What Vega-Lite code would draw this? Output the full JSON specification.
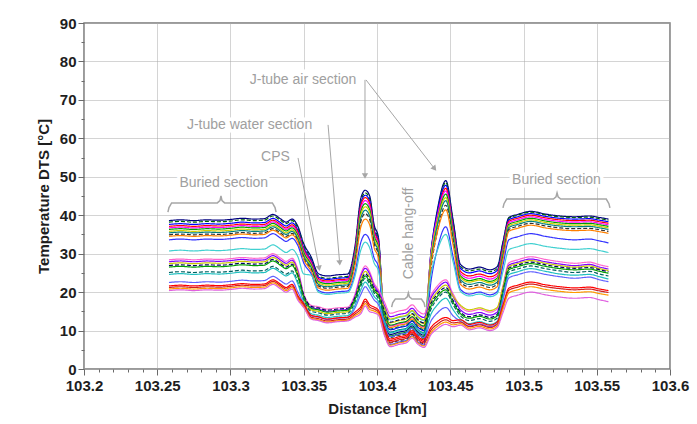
{
"$schema": "https://vega.github.io/schema/vega-lite/v6.json",
"width": 586, "height": 346,
"autosize": {"type": "none"},
"padding": {"left": 84, "top": 23, "right": 27, "bottom": 55},
"background": "white",
"datasets": {
"traces": [
{"k":"a1","d":[103.258,103.266,103.275,103.284,103.292,103.3,103.308,103.316,103.323,103.329,103.334,103.338,103.342,103.346,103.35,103.355,103.36,103.366,103.373,103.38,103.385,103.389,103.392,103.395,103.398,103.401,103.405,103.409,103.415,103.42,103.424,103.428,103.432,103.437,103.441,103.447,103.452,103.457,103.463,103.47,103.477,103.482,103.486,103.49,103.496,103.505,103.515,103.525,103.535,103.545,103.552,103.558],"t":[38.6,38.8,38.6,38.8,38.7,38.9,39.2,39.0,39.1,40.2,39.1,38.2,39.0,37.1,32.6,29.2,24.8,24.2,24.5,24.7,32.0,44.5,46.5,45.0,37.6,34.2,12.0,9.0,9.6,10.0,11.2,9.6,8.8,31.0,41.0,49.0,38.6,27.2,26.0,26.5,25.8,26.6,33.1,39.4,40.2,41.0,40.3,39.8,39.6,39.8,39.4,39.0]},
{"k":"a2","d":[103.258,103.266,103.275,103.284,103.292,103.3,103.308,103.316,103.323,103.329,103.334,103.338,103.342,103.346,103.35,103.355,103.36,103.366,103.373,103.38,103.385,103.389,103.392,103.395,103.398,103.401,103.405,103.409,103.415,103.42,103.424,103.428,103.432,103.437,103.441,103.447,103.452,103.457,103.463,103.47,103.477,103.482,103.486,103.49,103.496,103.505,103.515,103.525,103.535,103.545,103.552,103.558],"t":[38.2,38.4,38.2,38.4,38.3,38.5,38.8,38.6,38.7,39.8,38.7,37.8,38.6,36.7,32.2,28.6,24.2,23.6,23.9,24.1,31.4,43.8,45.8,44.3,36.9,33.6,11.2,8.2,8.8,9.2,10.4,8.8,8.0,30.4,40.4,48.5,38.2,26.7,25.5,26.0,25.3,26.1,32.8,39.2,40.0,40.8,40.1,39.6,39.4,39.5,39.1,38.7]},
{"k":"a3","d":[103.258,103.266,103.275,103.284,103.292,103.3,103.308,103.316,103.323,103.329,103.334,103.338,103.342,103.346,103.35,103.355,103.36,103.366,103.373,103.38,103.385,103.389,103.392,103.395,103.398,103.401,103.405,103.409,103.415,103.42,103.424,103.428,103.432,103.437,103.441,103.447,103.452,103.457,103.463,103.47,103.477,103.482,103.486,103.49,103.496,103.505,103.515,103.525,103.535,103.545,103.552,103.558],"t":[37.6,37.8,37.6,37.8,37.7,37.9,38.2,38.0,38.1,39.2,38.1,37.2,38.0,36.1,31.6,28.3,23.9,23.3,23.6,23.8,31.0,43.2,45.2,43.7,36.4,33.2,13.2,10.2,10.8,11.2,12.4,10.8,10.0,30.9,40.3,47.8,37.5,26.2,25.0,25.5,24.8,25.6,32.3,38.8,39.6,40.4,39.7,39.2,39.0,39.1,38.7,38.3]},
{"k":"a4","d":[103.258,103.266,103.275,103.284,103.292,103.3,103.308,103.316,103.323,103.329,103.334,103.338,103.342,103.346,103.35,103.355,103.36,103.366,103.373,103.38,103.385,103.389,103.392,103.395,103.398,103.401,103.405,103.409,103.415,103.42,103.424,103.428,103.432,103.437,103.441,103.447,103.452,103.457,103.463,103.47,103.477,103.482,103.486,103.49,103.496,103.505,103.515,103.525,103.535,103.545,103.552,103.558],"t":[37.1,37.3,37.1,37.3,37.2,37.4,37.7,37.5,37.6,38.7,37.6,36.7,37.5,35.6,31.1,27.9,23.5,22.9,23.2,23.4,30.5,42.6,44.6,43.1,35.9,32.7,10.4,7.4,8.0,8.4,9.6,8.0,7.2,29.2,39.1,47.0,36.7,25.4,24.2,24.7,24.0,24.8,31.7,38.4,39.2,40.0,39.3,38.8,38.6,38.7,38.3,37.9]},
{"k":"a5","d":[103.258,103.266,103.275,103.284,103.292,103.3,103.308,103.316,103.323,103.329,103.334,103.338,103.342,103.346,103.35,103.355,103.36,103.366,103.373,103.38,103.385,103.389,103.392,103.395,103.398,103.401,103.405,103.409,103.415,103.42,103.424,103.428,103.432,103.437,103.441,103.447,103.452,103.457,103.463,103.47,103.477,103.482,103.486,103.49,103.496,103.505,103.515,103.525,103.535,103.545,103.552,103.558],"t":[36.7,36.9,36.7,36.9,36.8,37.0,37.3,37.1,37.2,38.3,37.2,36.3,37.1,35.2,30.7,27.6,23.2,22.6,22.9,23.1,30.0,41.8,43.8,42.3,35.3,32.1,14.2,11.2,11.8,12.2,13.4,11.8,11.0,30.5,39.3,46.3,36.1,24.8,23.6,24.1,23.4,24.2,31.2,38.0,38.8,39.6,38.9,38.4,38.2,38.3,37.9,37.5]},
{"k":"a6","d":[103.258,103.266,103.275,103.284,103.292,103.3,103.308,103.316,103.323,103.329,103.334,103.338,103.342,103.346,103.35,103.355,103.36,103.366,103.373,103.38,103.385,103.389,103.392,103.395,103.398,103.401,103.405,103.409,103.415,103.42,103.424,103.428,103.432,103.437,103.441,103.447,103.452,103.457,103.463,103.47,103.477,103.482,103.486,103.49,103.496,103.505,103.515,103.525,103.535,103.545,103.552,103.558],"t":[36.3,36.5,36.3,36.5,36.4,36.6,36.9,36.7,36.8,37.9,36.8,35.9,36.7,34.8,30.3,27.2,22.8,22.2,22.5,22.7,29.5,41.0,43.0,41.5,34.7,31.6,11.6,8.6,9.2,9.6,10.8,9.2,8.4,28.9,38.1,45.5,35.4,24.2,23.0,23.5,22.8,23.6,30.7,37.6,38.4,39.2,38.5,38.0,37.8,37.9,37.5,37.1]},
{"k":"a7","d":[103.258,103.266,103.275,103.284,103.292,103.3,103.308,103.316,103.323,103.329,103.334,103.338,103.342,103.346,103.35,103.355,103.36,103.366,103.373,103.38,103.385,103.389,103.392,103.395,103.398,103.401,103.405,103.409,103.415,103.42,103.424,103.428,103.432,103.437,103.441,103.447,103.452,103.457,103.463,103.47,103.477,103.482,103.486,103.49,103.496,103.505,103.515,103.525,103.535,103.545,103.552,103.558],"t":[35.8,36.0,35.8,36.0,35.9,36.1,36.4,36.2,36.3,37.4,36.3,35.4,36.2,34.3,29.8,26.8,22.4,21.8,22.1,22.3,28.9,40.2,42.2,40.7,34.0,31.0,15.0,12.0,12.6,13.0,14.2,12.6,11.8,29.9,38.1,44.6,34.7,23.8,22.6,23.1,22.4,23.2,30.3,37.2,38.0,38.8,38.1,37.6,37.4,37.5,37.1,36.7]},
{"k":"a8","d":[103.258,103.266,103.275,103.284,103.292,103.3,103.308,103.316,103.323,103.329,103.334,103.338,103.342,103.346,103.35,103.355,103.36,103.366,103.373,103.38,103.385,103.389,103.392,103.395,103.398,103.401,103.405,103.409,103.415,103.42,103.424,103.428,103.432,103.437,103.441,103.447,103.452,103.457,103.463,103.47,103.477,103.482,103.486,103.49,103.496,103.505,103.515,103.525,103.535,103.545,103.552,103.558],"t":[35.4,35.6,35.4,35.6,35.5,35.7,36.0,35.8,35.9,37.0,35.9,35.0,35.8,33.9,29.4,26.4,22.0,21.4,21.7,21.9,28.4,39.3,41.3,39.8,33.3,30.4,12.6,9.6,10.2,10.6,11.8,10.2,9.4,28.4,37.0,43.8,34.0,23.2,22.0,22.5,21.8,22.6,29.8,36.8,37.6,38.4,37.7,37.2,37.0,37.1,36.7,36.3]},
{"k":"a9","d":[103.258,103.266,103.275,103.284,103.292,103.3,103.308,103.316,103.323,103.329,103.334,103.338,103.342,103.346,103.35,103.355,103.36,103.366,103.373,103.38,103.385,103.389,103.392,103.395,103.398,103.401,103.405,103.409,103.415,103.42,103.424,103.428,103.432,103.437,103.441,103.447,103.452,103.457,103.463,103.47,103.477,103.482,103.486,103.49,103.496,103.505,103.515,103.525,103.535,103.545,103.552,103.558],"t":[34.9,35.1,34.9,35.1,35.0,35.2,35.5,35.3,35.4,36.5,35.4,34.5,35.3,33.4,28.9,26.0,21.6,21.0,21.3,21.5,27.8,38.4,40.4,38.9,32.6,29.7,9.8,6.8,7.4,7.8,9.0,7.4,6.6,26.5,35.4,42.6,33.1,22.6,21.4,21.9,21.2,22.0,29.3,36.3,37.1,37.9,37.2,36.7,36.5,36.6,36.2,35.8]},
{"k":"a10","d":[103.258,103.266,103.275,103.284,103.292,103.3,103.308,103.316,103.323,103.329,103.334,103.338,103.342,103.346,103.35,103.355,103.36,103.366,103.373,103.38,103.385,103.389,103.392,103.395,103.398,103.401,103.405,103.409,103.415,103.42,103.424,103.428,103.432,103.437,103.441,103.447,103.452,103.457,103.463,103.47,103.477,103.482,103.486,103.49,103.496,103.505,103.515,103.525,103.535,103.545,103.552,103.558],"t":[34.5,34.7,34.5,34.7,34.6,34.8,35.1,34.9,35.0,36.1,35.0,34.1,34.9,33.0,28.5,25.5,21.1,20.5,20.8,21.0,27.0,37.0,39.0,37.5,31.6,28.8,13.8,10.8,11.4,11.8,13.0,11.4,10.6,27.6,35.3,41.4,32.1,22.0,20.8,21.3,20.6,21.4,28.7,35.8,36.6,37.4,36.7,36.2,36.0,36.1,35.7,35.3]},
{"k":"a11","d":[103.258,103.266,103.275,103.284,103.292,103.3,103.308,103.316,103.323,103.329,103.334,103.338,103.342,103.346,103.35,103.355,103.36,103.366,103.373,103.38,103.385,103.389,103.392,103.395,103.398,103.401,103.405,103.409,103.415,103.42,103.424,103.428,103.432,103.437,103.441,103.447,103.452,103.457,103.463,103.47,103.477,103.482,103.486,103.49,103.496,103.505,103.515,103.525,103.535,103.545,103.552,103.558],"t":[33.6,33.8,33.6,33.8,33.7,33.9,34.2,34.0,34.1,35.2,34.1,33.2,34.0,32.1,27.6,24.8,20.4,19.8,20.1,20.3,25.1,33.0,35.0,33.5,28.9,26.6,9.4,6.4,7.0,7.4,8.6,7.0,6.2,23.2,30.9,37.0,29.1,20.7,19.5,20.0,19.3,20.1,27.0,33.6,34.4,35.2,34.5,33.9,33.6,33.8,33.3,32.8]},
{"k":"a12","d":[103.258,103.266,103.275,103.284,103.292,103.3,103.308,103.316,103.323,103.329,103.334,103.338,103.342,103.346,103.35,103.355,103.36,103.366,103.373,103.38,103.385,103.389,103.392,103.395,103.398,103.401,103.405,103.409,103.415,103.42,103.424,103.428,103.432,103.437,103.441,103.447,103.452,103.457,103.463,103.47,103.477,103.482,103.486,103.49,103.496,103.505,103.515,103.525,103.535,103.545,103.552,103.558],"t":[30.7,30.9,30.7,30.9,30.8,31.0,31.3,31.1,31.2,32.3,31.2,30.3,31.1,29.2,24.7,24.4,20.0,19.4,19.7,19.9,24.2,31.0,33.0,31.5,27.6,25.5,15.8,12.8,13.4,13.8,15.0,13.4,12.6,25.0,30.6,35.0,27.8,20.2,19.0,19.5,18.8,19.6,25.4,31.0,31.8,32.6,31.9,31.4,31.1,31.3,30.8,30.3]},
{"k":"a13","d":[103.258,103.266,103.275,103.284,103.292,103.3,103.308,103.316,103.323,103.329,103.334,103.338,103.342,103.346,103.35,103.355,103.36,103.366,103.373,103.38,103.385,103.389,103.392,103.395,103.398,103.401,103.405,103.409,103.415,103.42,103.424,103.428,103.432,103.437,103.441,103.447,103.452,103.457,103.463,103.47,103.477,103.482,103.486,103.49,103.496,103.505,103.515,103.525,103.535,103.545,103.552,103.558],"t":[28.4,28.6,28.4,28.6,28.5,28.7,29.0,28.8,28.9,30.0,28.9,28.0,28.8,25.9,19.6,16.6,16.2,15.6,15.9,16.1,19.5,24.8,26.8,25.3,22.3,20.6,17.5,14.5,15.1,15.5,16.7,15.1,14.3,19.3,21.5,23.2,19.5,16.2,15.0,15.5,14.8,15.6,21.7,27.6,28.4,29.2,28.5,27.9,27.5,27.8,27.1,26.6]},
{"k":"a14","d":[103.258,103.266,103.275,103.284,103.292,103.3,103.308,103.316,103.323,103.329,103.334,103.338,103.342,103.346,103.35,103.355,103.36,103.366,103.373,103.38,103.385,103.389,103.392,103.395,103.398,103.401,103.405,103.409,103.415,103.42,103.424,103.428,103.432,103.437,103.441,103.447,103.452,103.457,103.463,103.47,103.477,103.482,103.486,103.49,103.496,103.505,103.515,103.525,103.535,103.545,103.552,103.558],"t":[27.9,28.1,27.9,28.1,28.0,28.2,28.5,28.3,28.4,29.5,28.4,27.5,28.3,25.4,19.0,16.0,15.6,15.0,15.3,15.5,18.9,24.2,26.2,24.7,21.7,20.0,16.6,13.6,14.2,14.6,15.8,14.2,13.4,18.6,20.8,22.6,18.8,15.4,14.2,14.7,14.0,14.8,21.0,27.0,27.8,28.6,27.9,27.3,26.9,27.2,26.5,26.0]},
{"k":"a15","d":[103.258,103.266,103.275,103.284,103.292,103.3,103.308,103.316,103.323,103.329,103.334,103.338,103.342,103.346,103.35,103.355,103.36,103.366,103.373,103.38,103.385,103.389,103.392,103.395,103.398,103.401,103.405,103.409,103.415,103.42,103.424,103.428,103.432,103.437,103.441,103.447,103.452,103.457,103.463,103.47,103.477,103.482,103.486,103.49,103.496,103.505,103.515,103.525,103.535,103.545,103.552,103.558],"t":[27.4,27.6,27.4,27.6,27.5,27.7,28.0,27.8,27.9,29.0,27.9,27.0,27.8,24.9,18.4,15.4,15.0,14.4,14.7,14.9,18.3,23.4,25.4,23.9,21.0,19.4,16.0,13.0,13.6,14.0,15.2,13.6,12.8,17.8,20.0,21.8,18.9,16.6,15.4,15.9,15.2,16.0,21.4,26.6,27.4,28.2,27.5,26.9,26.5,26.8,26.1,25.6]},
{"k":"a16","d":[103.258,103.266,103.275,103.284,103.292,103.3,103.308,103.316,103.323,103.329,103.334,103.338,103.342,103.346,103.35,103.355,103.36,103.366,103.373,103.38,103.385,103.389,103.392,103.395,103.398,103.401,103.405,103.409,103.415,103.42,103.424,103.428,103.432,103.437,103.441,103.447,103.452,103.457,103.463,103.47,103.477,103.482,103.486,103.49,103.496,103.505,103.515,103.525,103.535,103.545,103.552,103.558],"t":[26.9,27.1,26.9,27.1,27.0,27.2,27.5,27.3,27.4,28.5,27.4,26.5,27.3,24.4,19.3,16.3,15.9,15.3,15.6,15.8,18.6,22.8,24.8,23.3,21.0,19.6,15.2,12.2,12.8,13.2,14.4,12.8,12.0,17.2,19.4,21.2,17.8,14.8,13.6,14.1,13.4,14.2,20.3,26.2,27.0,27.8,27.1,26.5,26.2,26.4,25.8,25.3]},
{"k":"a17","d":[103.258,103.266,103.275,103.284,103.292,103.3,103.308,103.316,103.323,103.329,103.334,103.338,103.342,103.346,103.35,103.355,103.36,103.366,103.373,103.38,103.385,103.389,103.392,103.395,103.398,103.401,103.405,103.409,103.415,103.42,103.424,103.428,103.432,103.437,103.441,103.447,103.452,103.457,103.463,103.47,103.477,103.482,103.486,103.49,103.496,103.505,103.515,103.525,103.535,103.545,103.552,103.558],"t":[26.5,26.7,26.5,26.7,26.6,26.8,27.1,26.9,27.0,28.1,27.0,26.1,26.9,24.0,18.8,15.8,15.4,14.8,15.1,15.3,18.1,22.2,24.2,22.7,20.4,19.0,14.4,11.4,12.0,12.4,13.6,12.0,11.2,16.5,18.8,20.6,17.3,14.4,13.2,13.7,13.0,13.8,19.9,25.8,26.6,27.4,26.7,26.1,25.8,26.0,25.4,24.9]},
{"k":"a18","d":[103.258,103.266,103.275,103.284,103.292,103.3,103.308,103.316,103.323,103.329,103.334,103.338,103.342,103.346,103.35,103.355,103.36,103.366,103.373,103.38,103.385,103.389,103.392,103.395,103.398,103.401,103.405,103.409,103.415,103.42,103.424,103.428,103.432,103.437,103.441,103.447,103.452,103.457,103.463,103.47,103.477,103.482,103.486,103.49,103.496,103.505,103.515,103.525,103.535,103.545,103.552,103.558],"t":[25.1,25.3,25.1,25.3,25.2,25.4,25.7,25.5,25.6,26.7,25.6,24.7,25.5,22.6,18.0,15.0,14.6,14.0,14.3,14.5,17.4,21.6,23.6,22.1,19.8,18.3,13.4,10.4,11.0,11.4,12.6,11.0,10.2,15.7,18.1,20.0,16.7,13.8,12.6,13.1,12.4,13.2,19.3,25.2,26.0,26.8,26.1,25.5,25.1,25.4,24.7,24.2]},
{"k":"a19","d":[103.258,103.266,103.275,103.284,103.292,103.3,103.308,103.316,103.323,103.329,103.334,103.338,103.342,103.346,103.35,103.355,103.36,103.366,103.373,103.38,103.385,103.389,103.392,103.395,103.398,103.401,103.405,103.409,103.415,103.42,103.424,103.428,103.432,103.437,103.441,103.447,103.452,103.457,103.463,103.47,103.477,103.482,103.486,103.49,103.496,103.505,103.515,103.525,103.535,103.545,103.552,103.558],"t":[24.6,24.8,24.6,24.8,24.7,24.9,25.2,25.0,25.1,26.2,25.1,24.2,25.0,22.1,17.4,14.4,14.0,13.4,13.7,13.9,16.6,20.6,22.6,21.1,18.9,17.5,12.4,9.4,10.0,10.4,11.6,10.0,9.2,14.4,16.6,18.4,15.4,13.0,11.8,12.3,11.6,12.4,18.6,24.5,25.3,26.1,25.4,24.7,24.4,24.6,24.0,23.4]},
{"k":"a20","d":[103.258,103.266,103.275,103.284,103.292,103.3,103.308,103.316,103.323,103.329,103.334,103.338,103.342,103.346,103.35,103.355,103.36,103.366,103.373,103.38,103.385,103.389,103.392,103.395,103.398,103.401,103.405,103.409,103.415,103.42,103.424,103.428,103.432,103.437,103.441,103.447,103.452,103.457,103.463,103.47,103.477,103.482,103.486,103.49,103.496,103.505,103.515,103.525,103.535,103.545,103.552,103.558],"t":[22.5,22.7,22.5,22.7,22.6,22.8,23.1,22.9,23.0,24.1,23.0,22.1,22.9,20.0,16.9,13.9,13.5,12.9,13.2,13.4,15.9,19.4,21.4,19.9,18.0,16.7,11.4,8.4,9.0,9.4,10.6,9.0,8.2,12.6,14.5,16.0,13.8,12.4,11.2,11.7,11.0,11.8,17.9,23.7,24.5,25.3,24.6,24.0,23.6,23.9,23.2,22.7]},
{"k":"a21","d":[103.258,103.266,103.275,103.284,103.292,103.3,103.308,103.316,103.323,103.329,103.334,103.338,103.342,103.346,103.35,103.355,103.36,103.366,103.373,103.38,103.385,103.389,103.392,103.395,103.398,103.401,103.405,103.409,103.415,103.42,103.424,103.428,103.432,103.437,103.441,103.447,103.452,103.457,103.463,103.47,103.477,103.482,103.486,103.49,103.496,103.505,103.515,103.525,103.535,103.545,103.552,103.558],"t":[21.6,21.8,21.6,21.8,21.7,21.9,22.2,22.0,22.1,23.2,22.1,21.2,22.0,19.1,17.0,14.0,13.6,13.0,13.3,13.5,14.8,16.2,18.2,16.7,16.1,15.3,10.8,7.8,8.4,8.8,10.0,8.4,7.6,10.9,12.3,13.4,12.6,12.8,11.6,12.1,11.4,12.2,16.7,21.0,21.8,22.6,21.9,21.4,21.1,21.3,20.8,20.4]},
{"k":"a22","d":[103.258,103.266,103.275,103.284,103.292,103.3,103.308,103.316,103.323,103.329,103.334,103.338,103.342,103.346,103.35,103.355,103.36,103.366,103.373,103.38,103.385,103.389,103.392,103.395,103.398,103.401,103.405,103.409,103.415,103.42,103.424,103.428,103.432,103.437,103.441,103.447,103.452,103.457,103.463,103.47,103.477,103.482,103.486,103.49,103.496,103.505,103.515,103.525,103.535,103.545,103.552,103.558],"t":[21.2,21.4,21.2,21.4,21.3,21.5,21.8,21.6,21.7,22.8,21.7,20.8,21.6,18.7,16.5,13.5,13.1,12.5,12.8,13.0,14.3,15.6,17.6,16.1,15.6,14.8,10.0,7.0,7.6,8.0,9.2,7.6,6.8,10.2,11.6,12.8,12.0,12.2,11.0,11.5,10.8,11.6,16.2,20.5,21.3,22.1,21.4,20.9,20.6,20.8,20.3,19.9]},
{"k":"a23","d":[103.258,103.266,103.275,103.284,103.292,103.3,103.308,103.316,103.323,103.329,103.334,103.338,103.342,103.346,103.35,103.355,103.36,103.366,103.373,103.38,103.385,103.389,103.392,103.395,103.398,103.401,103.405,103.409,103.415,103.42,103.424,103.428,103.432,103.437,103.441,103.447,103.452,103.457,103.463,103.47,103.477,103.482,103.486,103.49,103.496,103.505,103.515,103.525,103.535,103.545,103.552,103.558],"t":[20.8,21.0,20.8,21.0,20.9,21.1,21.4,21.2,21.3,22.4,21.3,20.4,21.2,18.3,16.2,13.2,12.8,12.2,12.5,12.7,13.9,15.0,17.0,15.5,15.1,14.4,9.2,6.2,6.8,7.2,8.4,6.8,6.0,9.5,11.0,12.2,11.5,11.8,10.6,11.1,10.4,11.2,15.6,19.8,20.6,21.4,20.7,20.2,19.9,20.1,19.6,19.2]},
{"k":"a24","d":[103.258,103.266,103.275,103.284,103.292,103.3,103.308,103.316,103.323,103.329,103.334,103.338,103.342,103.346,103.35,103.355,103.36,103.366,103.373,103.38,103.385,103.389,103.392,103.395,103.398,103.401,103.405,103.409,103.415,103.42,103.424,103.428,103.432,103.437,103.441,103.447,103.452,103.457,103.463,103.47,103.477,103.482,103.486,103.49,103.496,103.505,103.515,103.525,103.535,103.545,103.552,103.558],"t":[20.4,20.6,20.4,20.6,20.5,20.7,21.0,20.8,20.9,22.0,20.9,20.0,20.8,17.9,16.0,13.0,12.6,12.0,12.3,12.5,13.5,14.4,16.4,14.9,14.6,14.0,8.8,5.8,6.4,6.8,8.0,6.4,5.6,9.0,10.4,11.6,11.0,11.4,10.2,10.7,10.0,10.8,14.7,18.4,19.2,20.0,19.3,18.7,18.4,18.6,18.0,17.5]}
],
"braces": [
{"b":"L","o":1,"d":103.2573,"t":40.8},{"b":"L","o":2,"d":103.2580,"t":42.0},{"b":"L","o":3,"d":103.2598,"t":43.2},{"b":"L","o":4,"d":103.2910,"t":43.2},{"b":"L","o":5,"d":103.2928,"t":43.8},{"b":"L","o":6,"d":103.2935,"t":45.0},{"b":"L","o":7,"d":103.2942,"t":43.8},{"b":"L","o":8,"d":103.2960,"t":43.2},{"b":"L","o":9,"d":103.3286,"t":43.2},{"b":"L","o":10,"d":103.3304,"t":42.0},{"b":"L","o":11,"d":103.3311,"t":40.8},
{"b":"R","o":1,"d":103.4860,"t":41.9},{"b":"R","o":2,"d":103.4867,"t":43.0},{"b":"R","o":3,"d":103.4885,"t":44.2},{"b":"R","o":4,"d":103.5204,"t":44.2},{"b":"R","o":5,"d":103.5222,"t":44.8},{"b":"R","o":6,"d":103.5229,"t":45.8},{"b":"R","o":7,"d":103.5236,"t":44.8},{"b":"R","o":8,"d":103.5254,"t":44.2},{"b":"R","o":9,"d":103.5565,"t":44.2},{"b":"R","o":10,"d":103.5583,"t":43.0},{"b":"R","o":11,"d":103.5590,"t":41.9},
{"b":"H","o":1,"d":103.4100,"t":16.1},{"b":"H","o":2,"d":103.4107,"t":17.2},{"b":"H","o":3,"d":103.4125,"t":18.2},{"b":"H","o":4,"d":103.4189,"t":18.2},{"b":"H","o":5,"d":103.4207,"t":18.8},{"b":"H","o":6,"d":103.4214,"t":19.8},{"b":"H","o":7,"d":103.4221,"t":18.8},{"b":"H","o":8,"d":103.4239,"t":18.2},{"b":"H","o":9,"d":103.4303,"t":18.2},{"b":"H","o":10,"d":103.4321,"t":17.2},{"b":"H","o":11,"d":103.4328,"t":16.1}
],
"arrows": [
{"d":103.3918,"t":75.2,"d2":103.3918,"t2":50.2},
{"d":103.3925,"t":75.2,"d2":103.4393,"t2":52.1},
{"d":103.3666,"t":63.5,"d2":103.3745,"t2":27.6},
{"d":103.3461,"t":54.9,"d2":103.3605,"t2":26.2}
],
"labels": [
{"d":103.3495,"t":75.2,"label":"J-tube air section"},
{"d":103.313,"t":63.5,"label":"J-tube water section"},
{"d":103.3307,"t":55.15,"label":"CPS"},
{"d":103.2954,"t":48.4,"label":"Buried section"},
{"d":103.5225,"t":49.2,"label":"Buried section"}
],
"vlabels": [
{"d":103.4218,"t":35.25,"label":"Cable hang-off"}
]
},
"encoding": {
"x": {"field":"d","type":"quantitative",
 "scale":{"domain":[103.2,103.6],"nice":false,"zero":false},
 "axis":{"title":"Distance [km]",
  "values":[103.2,103.21,103.22,103.23,103.24,103.25,103.26,103.27,103.28,103.29,103.3,103.31,103.32,103.33,103.34,103.35,103.36,103.37,103.38,103.39,103.4,103.41,103.42,103.43,103.44,103.45,103.46,103.47,103.48,103.49,103.5,103.51,103.52,103.53,103.54,103.55,103.56,103.57,103.58,103.59,103.6],
  "labelExpr":"abs(round(datum.value*100)) % 5 === 0 ? format(datum.value, '~g') : ''",
  "tickSize":{"condition":{"test":"abs(round(datum.value*100)) % 5 === 0","value":6},"value":3},
  "gridOpacity":{"condition":{"test":"abs(round(datum.value*100)) % 5 === 0","value":1},"value":0},
  "labelPadding":3,"titlePadding":8,"labelFlush":false,"labelOverlap":false}},
"y": {"field":"t","type":"quantitative",
 "scale":{"domain":[0,90],"nice":false},
 "axis":{"title":"Temperature DTS [°C]",
  "values":[0,5,10,15,20,25,30,35,40,45,50,55,60,65,70,75,80,85,90],
  "labelExpr":"datum.value % 10 === 0 ? datum.label : ''",
  "tickSize":{"condition":{"test":"datum.value % 10 === 0","value":6},"value":3},
  "gridOpacity":{"condition":{"test":"datum.value % 10 === 0","value":1},"value":0},
  "labelPadding":2,"titlePadding":8,"labelOverlap":false}}
},
"layer": [
{"data":{"name":"traces"},
 "transform":[{"flatten":["d","t"]}],
 "mark":{"type":"line","strokeWidth":1.2,"interpolate":"monotone"},
 "encoding":{
  "color":{"field":"k","type":"nominal","legend":null,
   "scale":{"domain":["a1","a2","a3","a4","a5","a6","a7","a8","a9","a10","a11","a12","a13","a14","a15","a16","a17","a18","a19","a20","a21","a22","a23","a24"],
   "range":["#000080","#006400","#0000ff","#ff0000","#ff00ff","#00a000","#d0d000","#008080","#303030","#ff8000","#3333ff","#40d0d0","#ff66cc","#8000ff","#c8c800","#000060","#00a000","#006060","#20c0c0","#6060ff","#ff0000","#d02020","#ff9900","#e060e0"]}},
  "strokeDash":{"condition":{"test":"datum.k==='a2'||datum.k==='a9'||datum.k==='a16'||datum.k==='a18'","value":[4,2]},"value":[1,0]}
 }},
{"data":{"name":"braces"},
 "mark":{"type":"line","color":"#a6a6a6","strokeWidth":1.5},
 "encoding":{"detail":{"field":"b"},"order":{"field":"o","type":"quantitative"}}},
{"data":{"name":"arrows"},
 "mark":{"type":"rule","color":"#a6a6a6","strokeWidth":1},
 "encoding":{"x2":{"field":"d2"},"y2":{"field":"t2"}}},
{"data":{"values":[{"d":103.3918,"t":50.2}]},
 "mark":{"type":"point","shape":"triangle-up","angle":180,"filled":true,"color":"#a6a6a6","size":40,"opacity":1}},
{"data":{"values":[{"d":103.4393,"t":52.1}]},
 "mark":{"type":"point","shape":"triangle-up","angle":142,"filled":true,"color":"#a6a6a6","size":40,"opacity":1}},
{"data":{"values":[{"d":103.3745,"t":27.6}]},
 "mark":{"type":"point","shape":"triangle-up","angle":175,"filled":true,"color":"#a6a6a6","size":40,"opacity":1}},
{"data":{"values":[{"d":103.3605,"t":26.2}]},
 "mark":{"type":"point","shape":"triangle-up","angle":169,"filled":true,"color":"#a6a6a6","size":40,"opacity":1}},
{"data":{"name":"labels"},
 "mark":{"type":"text","font":"Liberation Sans","fontSize":14,"fill":"white","stroke":"white","strokeWidth":7},
 "encoding":{"text":{"field":"label"}}},
{"data":{"name":"labels"},
 "mark":{"type":"text","font":"Liberation Sans","fontSize":14,"color":"#a0a0a0"},
 "encoding":{"text":{"field":"label"}}},
{"data":{"name":"vlabels"},
 "mark":{"type":"text","font":"Liberation Sans","fontSize":14,"angle":270,"fill":"white","stroke":"white","strokeWidth":7},
 "encoding":{"text":{"field":"label"}}},
{"data":{"name":"vlabels"},
 "mark":{"type":"text","font":"Liberation Sans","fontSize":14,"angle":270,"color":"#a0a0a0"},
 "encoding":{"text":{"field":"label"}}}
],
"config": {
"view":{"stroke":"#7a7a7a","strokeWidth":1.5},
"axis":{"labelFont":"Liberation Sans","labelFontSize":15,"labelFontWeight":"bold","labelColor":"#1e1e1e",
 "titleFont":"Liberation Sans","titleFontSize":15,"titleFontWeight":"bold","titleColor":"#1e1e1e",
 "domain":false,"tickColor":"#6a6a6a","tickWidth":1,"gridColor":"#a8a8a8","gridDash":[1,1],"gridWidth":1}
}
}
